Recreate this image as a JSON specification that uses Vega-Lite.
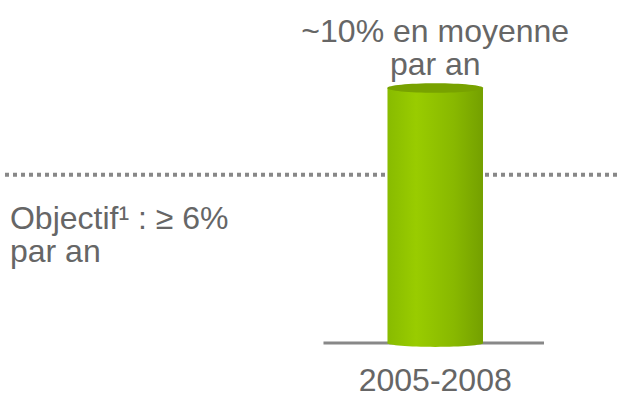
{
  "$schema": "https://vega.github.io/schema/vega-lite/v6.json",
  "width": 619,
  "height": 401,
  "autosize": {"type": "fit", "contains": "padding"},
  "padding": 0,
  "background": "white",
  "config": {"view": {"stroke": null}, "text": {"font": "Liberation Sans", "fontSize": 32, "color": "#666666"}},
  "encoding": {
    "x": {"field": "cat", "type": "nominal", "axis": null,
      "scale": {"domain": ["Objectif", "2005-2008"], "paddingInner": 0.747, "paddingOuter": 0.188, "align": 0.056}},
    "y": {"field": "valeur", "type": "quantitative", "axis": null,
      "scale": {"domain": [-2.27, 13.45], "nice": false, "zero": false}}
  },
  "layer": [
    {
      "data": {"values": [{"cat": "2005-2008", "valeur": 6.6}]},
      "mark": {"type": "rule", "color": "#888888", "strokeWidth": 4, "strokeDash": [4, 4], "strokeCap": "butt"},
      "encoding": {"x": null}
    },
    {
      "data": {"values": [{"cat": "2005-2008", "valeur": 0}]},
      "mark": {"type": "rule", "color": "#888888", "strokeWidth": 3, "xOffset": -64, "x2Offset": 61},
      "encoding": {
        "x": {"field": "cat", "type": "nominal", "bandPosition": 0},
        "x2": {"field": "cat", "bandPosition": 1}
      }
    },
    {
      "data": {"values": [{"cat": "2005-2008", "valeur": 10}]},
      "mark": {"type": "point", "filled": true, "opacity": 1, "size": 9216,
        "shape": "M -1 0 A 1 0.08 0 1 1 1 0 A 1 0.08 0 1 1 -1 0 Z",
        "color": {"gradient": "linear", "x1": 0, "x2": 1, "y1": 0, "y2": 0,
          "stops": [{"offset": 0, "color": "#88bb00"}, {"offset": 0.3, "color": "#99cc00"}, {"offset": 0.7, "color": "#88b800"}, {"offset": 1, "color": "#74a000"}]}},
      "encoding": {"y": {"datum": 0}}
    },
    {
      "data": {"values": [{"cat": "2005-2008", "valeur": 10}]},
      "mark": {"type": "bar",
        "color": {"gradient": "linear", "x1": 0, "x2": 1, "y1": 0, "y2": 0,
          "stops": [{"offset": 0, "color": "#88bb00"}, {"offset": 0.3, "color": "#99cc00"}, {"offset": 0.7, "color": "#88b800"}, {"offset": 1, "color": "#74a000"}]}},
      "encoding": {"y2": {"datum": 0}}
    },
    {
      "data": {"values": [{"cat": "2005-2008", "valeur": 10}]},
      "mark": {"type": "point", "filled": true, "opacity": 1, "size": 9216,
        "shape": "M -1 0 A 1 0.1 0 1 1 1 0 A 1 0.1 0 1 1 -1 0 Z",
        "color": "#78a200"}
    },
    {
      "data": {"values": [{"cat": "2005-2008", "valeur": 10, "label": "~10% en moyenne\npar an"}]},
      "mark": {"type": "text", "align": "center", "baseline": "alphabetic", "lineBreak": "\n", "lineHeight": 33, "dy": -46},
      "encoding": {"text": {"field": "label"}}
    },
    {
      "data": {"values": [{"cat": "Objectif", "valeur": 6.6, "label": "Objectif¹ : ≥ 6%\npar an"}]},
      "mark": {"type": "text", "align": "left", "baseline": "alphabetic", "lineBreak": "\n", "lineHeight": 33, "dy": 54},
      "encoding": {"x": {"field": "cat", "type": "nominal", "bandPosition": 0}, "text": {"field": "label"}}
    },
    {
      "data": {"values": [{"cat": "2005-2008", "valeur": 0, "label": "2005-2008"}]},
      "mark": {"type": "text", "align": "center", "baseline": "alphabetic", "dy": 48},
      "encoding": {"text": {"field": "label"}}
    }
  ]
}
